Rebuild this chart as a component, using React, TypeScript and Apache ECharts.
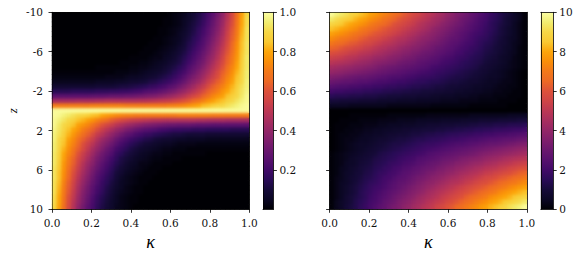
import React, { useEffect, useRef } from "react";
import * as echarts from "echarts";

// Rows run from z = -10 (top) to z = 10 (bottom); columns from kappa = 0 to kappa = 1.
// Left field in hundredths of the colour-bar unit.
const leftField: number[][] = [
[0,0,0,0,0,0,0,0,0,0,0,0,0,0,0,0,0,0,0,0,0,0,0,0,1,2,3,4,7,9,12,16,21,26,32,39,48,57,67,79,90],
[0,0,0,0,0,0,0,0,0,0,0,0,0,0,0,0,0,0,0,0,0,0,0,1,1,2,3,5,7,10,13,17,22,28,34,41,49,58,68,80,91],
[0,0,0,0,0,0,0,0,0,0,0,0,0,0,0,0,0,0,0,0,0,0,0,1,1,2,3,5,8,11,14,18,23,29,35,42,51,59,69,80,91],
[0,0,0,0,0,0,0,0,0,0,0,0,0,0,0,0,0,0,0,0,0,0,1,1,2,3,4,6,9,12,16,20,25,31,36,44,52,61,70,81,92],
[0,0,0,0,0,0,0,0,0,0,0,0,0,0,0,0,0,0,0,0,0,0,1,1,2,3,5,7,10,13,17,21,26,32,38,45,54,62,71,82,92],
[0,0,0,0,0,0,0,0,0,0,0,0,0,0,0,0,0,0,0,0,0,1,1,2,3,4,5,8,11,15,18,23,28,34,40,47,55,63,72,83,92],
[0,0,0,0,0,0,0,0,0,0,0,0,0,0,0,0,0,0,0,0,1,1,1,2,3,4,6,9,13,16,20,24,30,36,42,49,57,65,74,84,93],
[0,0,0,0,0,0,0,0,0,0,0,0,0,0,0,0,0,0,0,1,1,1,2,3,4,5,8,10,14,18,22,26,32,38,44,51,59,66,75,84,93],
[0,0,0,0,0,0,0,0,0,0,0,0,0,0,0,0,0,0,1,1,1,2,3,4,5,7,9,12,16,20,24,29,34,40,46,53,61,68,76,85,93],
[0,0,0,0,0,0,0,0,0,0,0,0,0,0,0,0,1,1,1,1,2,3,3,5,6,8,11,14,18,22,26,31,37,42,48,55,63,70,77,86,94],
[0,0,0,0,0,0,0,0,0,0,0,0,0,0,1,1,1,1,2,2,3,4,5,6,8,10,12,16,20,24,29,33,39,45,51,57,64,71,79,87,94],
[0,0,0,0,0,0,0,0,0,1,1,1,1,1,1,1,2,2,3,3,4,5,6,8,10,12,15,18,23,27,31,36,42,48,53,60,67,73,80,88,94],
[1,1,1,1,1,1,1,1,1,1,1,1,1,2,2,2,3,3,4,5,6,7,8,10,12,15,18,21,26,30,35,40,45,51,57,63,69,75,82,89,95],
[2,2,2,2,2,2,2,2,2,2,2,3,3,3,3,4,5,5,6,7,8,9,11,13,15,18,21,25,30,34,38,43,49,54,59,65,72,77,84,90,95],
[4,4,4,4,4,4,4,4,4,5,5,5,5,6,6,7,8,8,9,10,12,13,15,17,19,22,25,29,34,38,42,47,53,58,63,68,74,79,85,90,96],
[8,8,8,8,8,8,8,8,8,9,9,9,9,10,11,11,12,13,14,15,17,18,20,22,25,27,31,35,39,43,48,52,58,63,67,72,77,82,87,92,96],
[14,14,14,14,15,15,15,15,15,16,16,16,17,17,18,18,19,20,21,23,24,25,27,29,32,34,38,41,45,49,53,58,63,67,71,76,80,84,89,93,97],
[26,26,26,26,26,26,26,26,27,27,27,28,29,29,29,30,30,31,32,33,34,35,37,39,41,43,46,49,53,56,60,64,68,73,76,79,84,87,90,94,98],
[44,44,44,44,44,45,45,45,45,46,46,47,47,47,47,47,47,47,48,48,49,50,51,52,53,55,57,60,62,66,69,72,76,79,82,84,88,90,93,96,98],
[71,71,71,71,71,71,71,71,72,72,72,72,72,72,72,71,71,71,71,71,71,71,71,71,72,72,73,74,76,78,80,83,84,87,89,90,92,94,96,98,99],
[99,99,99,99,99,99,99,99,99,99,99,99,99,99,99,99,99,99,99,99,99,99,99,99,99,99,99,99,99,99,99,99,99,99,99,99,99,99,99,99,99],
[99,98,96,94,92,90,89,87,84,83,80,78,76,74,73,72,72,71,71,71,71,71,71,71,71,71,72,72,72,72,72,72,72,71,71,71,71,71,71,71,71],
[98,96,93,90,88,84,82,79,76,72,69,66,62,60,57,55,53,52,51,50,49,48,48,47,47,47,47,47,47,47,46,46,45,45,45,45,44,44,44,44,44],
[98,94,90,87,84,79,76,73,68,64,60,56,53,49,46,43,41,39,37,35,34,33,32,31,30,30,29,29,29,28,27,27,27,26,26,26,26,26,26,26,26],
[97,93,89,84,80,76,71,67,63,58,53,49,45,41,38,34,32,29,27,25,24,23,21,20,19,18,18,17,17,16,16,16,15,15,15,15,15,14,14,14,14],
[96,92,87,82,77,72,67,63,58,52,48,43,39,35,31,27,25,22,20,18,17,15,14,13,12,11,11,10,9,9,9,9,8,8,8,8,8,8,8,8,8],
[96,90,85,79,74,68,63,58,53,47,42,38,34,29,25,22,19,17,15,13,12,10,9,8,8,7,6,6,5,5,5,5,4,4,4,4,4,4,4,4,4],
[95,90,84,77,72,65,59,54,49,43,38,34,30,25,21,18,15,13,11,9,8,7,6,5,5,4,3,3,3,3,2,2,2,2,2,2,2,2,2,2,2],
[95,89,82,75,69,63,57,51,45,40,35,30,26,21,18,15,12,10,8,7,6,5,4,3,3,2,2,2,1,1,1,1,1,1,1,1,1,1,1,1,1],
[94,88,80,73,67,60,53,48,42,36,31,27,23,18,15,12,10,8,6,5,4,3,3,2,2,1,1,1,1,1,1,1,0,0,0,0,0,0,0,0,0],
[94,87,79,71,64,57,51,45,39,33,29,24,20,16,12,10,8,6,5,4,3,2,2,1,1,1,1,0,0,0,0,0,0,0,0,0,0,0,0,0,0],
[94,86,77,70,63,55,48,42,37,31,26,22,18,14,11,8,6,5,3,3,2,1,1,1,1,0,0,0,0,0,0,0,0,0,0,0,0,0,0,0,0],
[93,85,76,68,61,53,46,40,34,29,24,20,16,12,9,7,5,4,3,2,1,1,1,0,0,0,0,0,0,0,0,0,0,0,0,0,0,0,0,0,0],
[93,84,75,66,59,51,44,38,32,26,22,18,14,10,8,5,4,3,2,1,1,1,0,0,0,0,0,0,0,0,0,0,0,0,0,0,0,0,0,0,0],
[93,84,74,65,57,49,42,36,30,24,20,16,13,9,6,4,3,2,1,1,1,0,0,0,0,0,0,0,0,0,0,0,0,0,0,0,0,0,0,0,0],
[92,83,72,63,55,47,40,34,28,23,18,15,11,8,5,4,3,2,1,1,0,0,0,0,0,0,0,0,0,0,0,0,0,0,0,0,0,0,0,0,0],
[92,82,71,62,54,45,38,32,26,21,17,13,10,7,5,3,2,1,1,0,0,0,0,0,0,0,0,0,0,0,0,0,0,0,0,0,0,0,0,0,0],
[92,81,70,61,52,44,36,31,25,20,16,12,9,6,4,3,2,1,1,0,0,0,0,0,0,0,0,0,0,0,0,0,0,0,0,0,0,0,0,0,0],
[91,80,69,59,51,42,35,29,23,18,14,11,8,5,3,2,1,1,0,0,0,0,0,0,0,0,0,0,0,0,0,0,0,0,0,0,0,0,0,0,0],
[91,80,68,58,49,41,34,28,22,17,13,10,7,5,3,2,1,1,0,0,0,0,0,0,0,0,0,0,0,0,0,0,0,0,0,0,0,0,0,0,0],
[90,79,67,57,48,39,32,26,21,16,12,9,7,4,3,2,1,0,0,0,0,0,0,0,0,0,0,0,0,0,0,0,0,0,0,0,0,0,0,0,0],
];

// Right field in tenths of the colour-bar unit.
const rightField: number[][] = [
[99,96,94,92,89,87,84,82,79,77,74,72,70,67,65,62,60,57,55,52,50,48,45,43,40,38,35,33,31,28,26,23,21,18,16,13,11,9,6,4,1],
[94,91,89,87,85,82,80,78,75,73,71,68,66,64,61,59,57,54,52,50,48,45,43,41,38,36,34,31,29,27,24,22,20,17,15,13,10,8,6,4,1],
[89,87,85,82,80,78,76,74,71,69,67,65,63,60,58,56,54,52,49,47,45,43,41,38,36,34,32,30,27,25,23,21,19,16,14,12,10,8,5,3,1],
[84,82,80,78,76,74,71,69,67,65,63,61,59,57,55,53,51,49,47,45,43,40,38,36,34,32,30,28,26,24,22,20,18,16,14,11,9,7,5,3,1],
[79,77,75,73,71,69,67,65,63,61,60,58,56,54,52,50,48,46,44,42,40,38,36,34,32,30,28,26,24,22,20,19,17,15,13,11,9,7,5,3,1],
[74,72,70,69,67,65,63,61,59,58,56,54,52,50,48,47,45,43,41,39,38,36,34,32,30,28,27,25,23,21,19,17,16,14,12,10,8,6,5,3,1],
[69,67,66,64,62,61,59,57,56,54,52,50,49,47,45,44,42,40,38,37,35,33,32,30,28,26,25,23,21,20,18,16,14,13,11,9,8,6,4,3,1],
[64,63,61,59,58,56,55,53,52,50,48,47,45,44,42,40,39,37,36,34,33,31,29,28,26,25,23,21,20,18,17,15,13,12,10,9,7,6,4,2,1],
[59,58,56,55,53,52,50,49,48,46,45,43,42,40,39,37,36,34,33,31,30,29,27,26,24,23,21,20,18,17,15,14,12,11,10,8,7,5,4,2,1],
[54,53,52,50,49,48,46,45,44,42,41,40,38,37,36,34,33,32,30,29,28,26,25,23,22,21,19,18,17,15,14,13,11,10,9,7,6,5,3,2,1],
[49,48,47,46,45,43,42,41,40,38,37,36,35,34,32,31,30,29,27,26,25,24,23,21,20,19,18,16,15,14,13,12,10,9,8,7,6,4,3,2,1],
[44,43,42,41,40,39,38,37,36,35,33,32,31,30,29,28,27,26,25,24,23,21,20,19,18,17,16,15,14,13,12,10,9,8,7,6,5,4,3,2,1],
[40,39,38,37,36,35,34,33,32,31,30,29,28,27,26,25,24,23,22,21,20,19,18,17,16,15,14,13,12,11,10,9,8,7,6,5,4,3,2,1,0],
[35,34,33,32,31,30,29,29,28,27,26,25,24,23,23,22,21,20,19,18,18,17,16,15,14,13,12,12,11,10,9,8,7,6,6,5,4,3,2,1,0],
[30,29,28,27,27,26,25,25,24,23,22,22,21,20,19,19,18,17,16,16,15,14,14,13,12,11,11,10,9,8,8,7,6,5,5,4,3,3,2,1,0],
[25,24,23,23,22,22,21,20,20,19,19,18,17,17,16,16,15,14,14,13,13,12,11,11,10,9,9,8,8,7,6,6,5,5,4,3,3,2,2,1,0],
[20,19,19,18,18,17,17,16,16,15,15,14,14,13,13,12,12,11,11,10,10,10,9,9,8,8,7,7,6,6,5,5,4,4,3,3,2,2,1,1,0],
[15,14,14,14,13,13,13,12,12,12,11,11,10,10,10,9,9,9,8,8,8,7,7,6,6,6,5,5,5,4,4,3,3,3,2,2,2,1,1,1,0],
[10,10,9,9,9,9,8,8,8,8,7,7,7,7,6,6,6,6,5,5,5,5,5,4,4,4,4,3,3,3,3,2,2,2,2,1,1,1,1,0,0],
[5,5,5,5,4,4,4,4,4,4,4,4,3,3,3,3,3,3,3,3,3,2,2,2,2,2,2,2,2,1,1,1,1,1,1,1,1,0,0,0,0],
[0,0,0,0,0,0,0,0,0,0,0,0,0,0,0,0,0,0,0,0,0,0,0,0,0,0,0,0,0,0,0,0,0,0,0,0,0,0,0,0,0],
[0,0,0,0,1,1,1,1,1,1,1,1,2,2,2,2,2,2,2,2,3,3,3,3,3,3,3,3,3,4,4,4,4,4,4,4,4,5,5,5,5],
[0,0,1,1,1,1,2,2,2,2,3,3,3,3,4,4,4,4,5,5,5,5,5,6,6,6,6,7,7,7,7,8,8,8,8,9,9,9,9,10,10],
[0,1,1,1,2,2,2,3,3,3,4,4,5,5,5,6,6,6,7,7,8,8,8,9,9,9,10,10,10,11,11,12,12,12,13,13,13,14,14,14,15],
[0,1,1,2,2,3,3,4,4,5,5,6,6,7,7,8,8,9,9,10,10,10,11,11,12,12,13,13,14,14,15,15,16,16,17,17,18,18,19,19,20],
[0,1,2,2,3,3,4,5,5,6,6,7,8,8,9,9,10,11,11,12,13,13,14,14,15,16,16,17,17,18,19,19,20,20,21,22,22,23,23,24,25],
[0,1,2,3,3,4,5,5,6,7,8,8,9,10,11,11,12,13,14,14,15,16,16,17,18,19,19,20,21,22,22,23,24,25,25,26,27,27,28,29,30],
[0,1,2,3,4,5,6,6,7,8,9,10,11,12,12,13,14,15,16,17,18,18,19,20,21,22,23,23,24,25,26,27,28,29,29,30,31,32,33,34,35],
[0,1,2,3,4,5,6,7,8,9,10,11,12,13,14,15,16,17,18,19,20,21,22,23,24,25,26,27,28,29,30,31,32,33,34,35,36,37,38,39,40],
[1,2,3,4,5,6,7,8,9,10,12,13,14,15,16,17,18,19,20,21,23,24,25,26,27,28,29,30,31,32,33,35,36,37,38,39,40,41,42,43,44],
[1,2,3,4,6,7,8,9,10,12,13,14,15,16,18,19,20,21,23,24,25,26,27,29,30,31,32,34,35,36,37,38,40,41,42,43,45,46,47,48,49],
[1,2,3,5,6,7,9,10,11,13,14,15,17,18,19,21,22,23,25,26,28,29,30,32,33,34,36,37,38,40,41,42,44,45,46,48,49,50,52,53,54],
[1,2,4,5,7,8,10,11,12,14,15,17,18,20,21,23,24,26,27,29,30,31,33,34,36,37,39,40,42,43,45,46,48,49,50,52,53,55,56,58,59],
[1,2,4,6,7,9,10,12,13,15,17,18,20,21,23,25,26,28,29,31,33,34,36,37,39,40,42,44,45,47,48,50,52,53,55,56,58,59,61,63,64],
[1,3,4,6,8,9,11,13,14,16,18,20,21,23,25,26,28,30,32,33,35,37,38,40,42,44,45,47,49,50,52,54,56,57,59,61,62,64,66,67,69],
[1,3,5,6,8,10,12,14,16,17,19,21,23,25,27,28,30,32,34,36,38,39,41,43,45,47,48,50,52,54,56,58,59,61,63,65,67,69,70,72,74],
[1,3,5,7,9,11,13,15,17,19,20,22,24,26,28,30,32,34,36,38,40,42,44,46,48,50,52,54,56,58,60,61,63,65,67,69,71,73,75,77,79],
[1,3,5,7,9,11,14,16,18,20,22,24,26,28,30,32,34,36,38,40,43,45,47,49,51,53,55,57,59,61,63,65,67,69,71,74,76,78,80,82,84],
[1,3,5,8,10,12,14,16,19,21,23,25,27,30,32,34,36,38,41,43,45,47,49,52,54,56,58,60,63,65,67,69,71,74,76,78,80,82,85,87,89],
[1,4,6,8,10,13,15,17,20,22,24,27,29,31,34,36,38,41,43,45,48,50,52,54,57,59,61,64,66,68,71,73,75,78,80,82,85,87,89,91,94],
[1,4,6,9,11,13,16,18,21,23,26,28,31,33,35,38,40,43,45,48,50,52,55,57,60,62,65,67,70,72,74,77,79,82,84,87,89,92,94,96,99],
];

const kappaTicks = [0, 0.2, 0.4, 0.6, 0.8, 1];
const zTicks = [-10, -6, -2, 2, 6, 10];
const leftBarTicks = [0.2, 0.4, 0.6, 0.8, 1];
const rightBarTicks = [0, 2, 4, 6, 8, 10];
const inferno = ["#000004","#0b0724","#160b39","#2a0b57","#420a68","#57106e","#6a176e","#7f1e6c","#932667","#a82e5f","#bc3754","#cf4446","#dd513a","#ed6925","#f37819","#f98e09","#fca50a","#f9c932","#f6d746","#f1ed71","#fcffa4"];

const SERIF = '"DejaVu Serif", serif';
const MATH = '"Liberation Serif", serif';
const INK = "#000";

const gridBoxes = [
  { left: 52, top: 12.3, width: 197.3, height: 197 },
  { left: 263, top: 12.3, width: 10.4, height: 197 },
  { left: 329.6, top: 12.3, width: 197.3, height: 197 },
  { left: 540.8, top: 12.3, width: 12.4, height: 197 },
];

const line = { show: true, onZero: false, lineStyle: { color: INK, width: 0.8 } };
const tick = { show: true, length: 3.5, inside: false, lineStyle: { color: INK, width: 0.8 } };
const label = { show: true, color: "#111", fontFamily: SERIF, fontSize: 10.5 };

function frameAxis(gridIndex: number, position: string, type: string, extra: any = {}) {
  return {
    gridIndex, position, type, z: 10,
    axisLine: line, axisTick: { show: false }, axisLabel: { show: false }, splitLine: { show: false },
    ...extra,
  };
}

const colLabels = leftField[0].map((_, i) => String(i));
const rowLabels = leftField.map((_, i) => String(i));

function heatAxes(gridIndex: number, showZ: boolean) {
  const x = [
    { gridIndex, type: "category", data: colLabels, show: false },
    frameAxis(gridIndex, "bottom", "value", {
      min: 0, max: 1, interval: 0.2,
      axisTick: tick,
      axisLabel: { ...label, margin: 8, formatter: (v: number) => v.toFixed(1), customValues: kappaTicks },
      name: "κ", nameLocation: "middle", nameGap: 23,
      nameTextStyle: { fontFamily: MATH, fontStyle: "italic", fontWeight: "normal", fontSize: 18, color: INK },
    }),
    frameAxis(gridIndex, "top", "value", { min: 0, max: 1 }),
  ];
  const y = [
    { gridIndex, type: "category", data: rowLabels, inverse: true, show: false },
    frameAxis(gridIndex, "left", "value", {
      min: -10, max: 10, interval: 4, inverse: true,
      axisTick: tick,
      axisLabel: showZ ? { ...label, margin: 9, customValues: zTicks } : { show: false },
      ...(showZ ? {
        name: "z", nameLocation: "middle", nameGap: 33, nameRotate: 90,
        nameTextStyle: { fontFamily: MATH, fontStyle: "italic", fontWeight: "normal", fontSize: 13, color: INK },
      } : {}),
    }),
    frameAxis(gridIndex, "right", "value", { min: -10, max: 10 }),
  ];
  return { x, y };
}

function barAxes(gridIndex: number, max: number, ticks: number[], fmt: (v: number) => string) {
  const x = [
    frameAxis(gridIndex, "bottom", "category", { data: ["c"], boundaryGap: true }),
    frameAxis(gridIndex, "top", "category", { data: ["c"] }),
  ];
  const y = [
    frameAxis(gridIndex, "right", "value", {
      min: 0, max,
      axisTick: { ...tick, customValues: ticks },
      axisLabel: { ...label, margin: 6, formatter: fmt, customValues: ticks },
    }),
    frameAxis(gridIndex, "left", "value", { min: 0, max }),
  ];
  return { x, y };
}

function cells(field: number[][]) {
  const out: number[][] = [];
  field.forEach((row, j) => row.forEach((v, i) => out.push([i, j, v])));
  return out;
}

const visualMaps = [0, 1].map((k) => ({
  type: "continuous", show: false, min: 0, max: 100, seriesIndex: k,
  inRange: { color: inferno },
}));

export default function App() {
  const ref = useRef<HTMLDivElement>(null);
  const softRef = useRef<HTMLDivElement>(null);
  useEffect(() => {
    if (!ref.current || !softRef.current) return;
    const chart = echarts.init(ref.current, undefined, { renderer: "svg" });
    const a = heatAxes(0, true);
    const b = barAxes(1, 1, leftBarTicks, (v) => v.toFixed(1));
    const c = heatAxes(2, false);
    const d = barAxes(3, 10, rightBarTicks, (v) => String(v));
    const gradient = () =>
      new echarts.graphic.LinearGradient(0, 1, 0, 0,
        inferno.map((color, i) => ({ offset: i / (inferno.length - 1), color })));
    chart.setOption({
      animation: false,
      backgroundColor: "#fff",
      grid: gridBoxes,
      xAxis: [...a.x, ...b.x, ...c.x, ...d.x],
      yAxis: [...a.y, ...b.y, ...c.y, ...d.y],
      visualMap: visualMaps,
      series: [
        { type: "heatmap", xAxisIndex: 0, yAxisIndex: 0, data: cells(leftField), silent: true },
        { type: "heatmap", xAxisIndex: 5, yAxisIndex: 5, data: cells(rightField), silent: true },
        { type: "bar", xAxisIndex: 3, yAxisIndex: 3, data: [1], barWidth: "100%", silent: true, itemStyle: { color: gradient() } },
        { type: "bar", xAxisIndex: 8, yAxisIndex: 8, data: [10], barWidth: "100%", silent: true, itemStyle: { color: gradient() } },
      ],
    });
    // The same two fields again, softened, laid over the plot interiors: the reference is a smooth image.
    const soft = echarts.init(softRef.current, undefined, { renderer: "svg" });
    const heatBoxes = [gridBoxes[0], gridBoxes[2]];
    soft.setOption({
      animation: false,
      grid: heatBoxes,
      xAxis: [0, 1].map((gridIndex) => ({ gridIndex, type: "category", data: colLabels, show: false })),
      yAxis: [0, 1].map((gridIndex) => ({ gridIndex, type: "category", data: rowLabels, inverse: true, show: false })),
      visualMap: visualMaps,
      series: [
        { type: "heatmap", xAxisIndex: 0, yAxisIndex: 0, data: cells(leftField), silent: true },
        { type: "heatmap", xAxisIndex: 1, yAxisIndex: 1, data: cells(rightField), silent: true },
      ],
    });
    return () => { chart.dispose(); soft.dispose(); };
  }, []);
  const page: React.CSSProperties = { position: "fixed", left: 0, top: 0, width: 581, height: 258 };
  return (
    <>
      <div ref={ref} style={page} />
      <div style={{ ...page, clipPath: "path('M52.5 12.8H248.9V208.9H52.5Z M330.1 12.8H526.5V208.9H330.1Z')", pointerEvents: "none" }}>
        <div ref={softRef} style={{ ...page, position: "absolute", filter: "blur(1.8px)" }} />
      </div>
    </>
  );
}
